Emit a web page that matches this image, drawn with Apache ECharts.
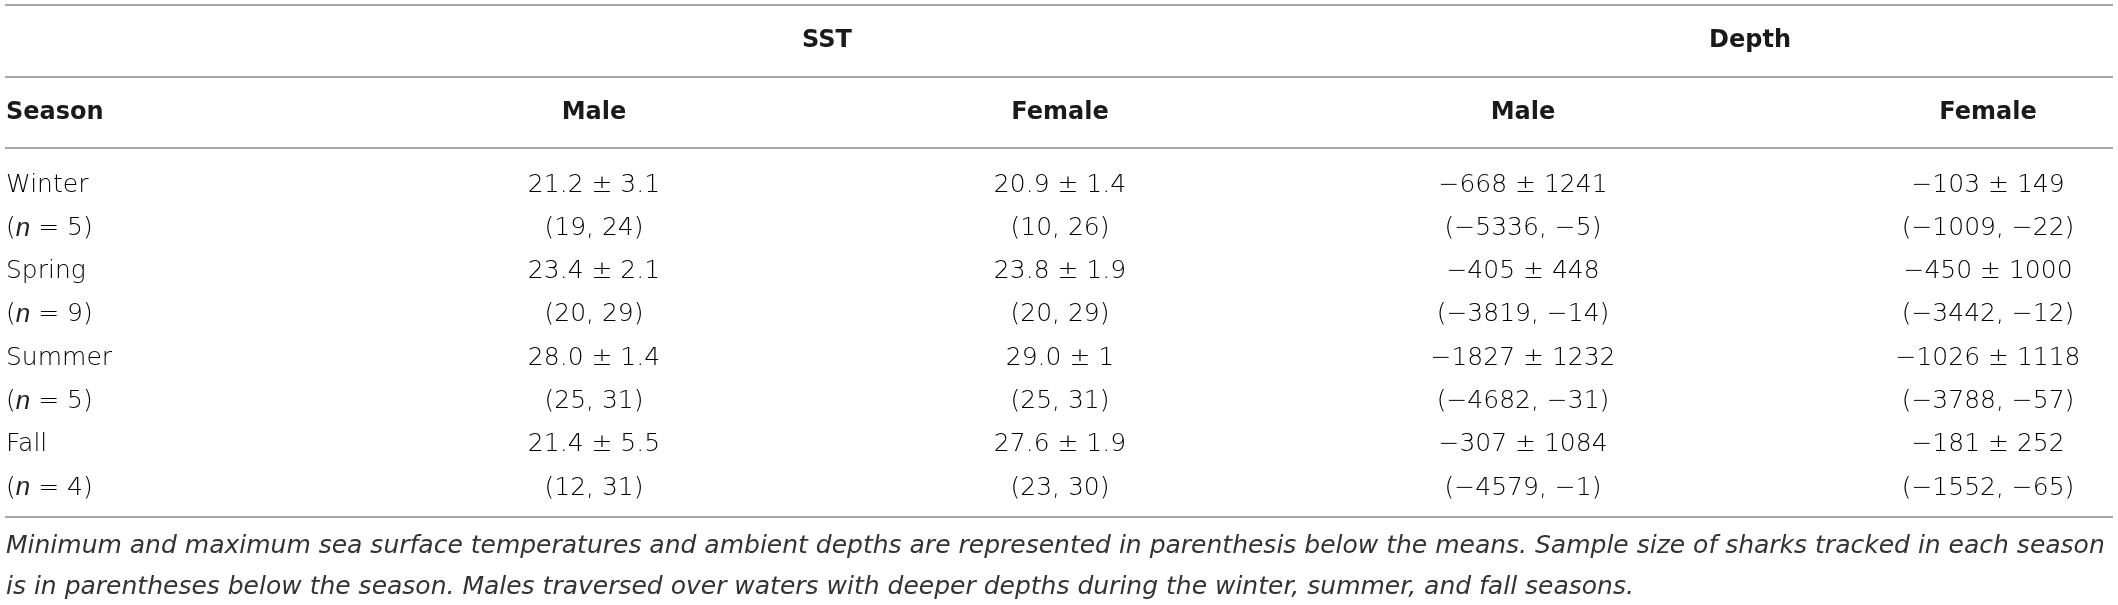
<!DOCTYPE html>
<html>
<head>
<meta charset="utf-8">
<script src="https://cdn.jsdelivr.net/npm/echarts@6/dist/echarts.min.js"></script>
<style>
html, body { margin: 0; padding: 0; background: #ffffff; }
#chart { width: 2118px; height: 605px; }
</style>
</head>
<body>
<div id="chart"></div>
<script>
// ---------------- data ----------------
const groupHeaders = ['SST', 'Depth'];
const columnHeaders = ['Season', 'Male', 'Female', 'Male', 'Female'];
const seasons = ['Winter', 'Spring', 'Summer', 'Fall'];
const sampleSizes = [5, 9, 5, 4];

const sstMaleMean = [21.2, 23.4, 28.0, 21.4];
const sstMaleSd = [3.1, 2.1, 1.4, 5.5];
const sstMaleMin = [19, 20, 25, 12];
const sstMaleMax = [24, 29, 31, 31];

const sstFemaleMean = [20.9, 23.8, 29.0, 27.6];
const sstFemaleSd = [1.4, 1.9, 1, 1.9];
const sstFemaleMin = [10, 20, 25, 23];
const sstFemaleMax = [26, 29, 31, 30];

const depthMaleMean = [-668, -405, -1827, -307];
const depthMaleSd = [1241, 448, 1232, 1084];
const depthMaleMin = [-5336, -3819, -4682, -4579];
const depthMaleMax = [-5, -14, -31, -1];

const depthFemaleMean = [-103, -450, -1026, -181];
const depthFemaleSd = [149, 1000, 1118, 252];
const depthFemaleMin = [-1009, -3442, -3788, -1552];
const depthFemaleMax = [-22, -12, -57, -65];

const captionLines = [
  'Minimum and maximum sea surface temperatures and ambient depths are represented in parenthesis below the means. Sample size of sharks tracked in each season',
  'is in parentheses below the season. Males traversed over waters with deeper depths during the winter, summer, and fall seasons.'
];

// ---------------- layout (styles / positions) ----------------
const W = 2118, H = 605;
const colX = [6, 594, 1060, 1523, 1988];
const groupX = [827, 1750];
const ruleY = [5, 77, 148, 517];
const ruleX0 = 5, ruleX1 = 2113;
const groupY = 41, headY = 113, bodyY0 = 185, bodyStep = 43.3;
const captionY = [546, 587];
const FONT = "'DejaVu Sans', 'Liberation Sans', Arial, sans-serif";
const ITALIC_FONT = "'Liberation Sans', Arial, sans-serif";
const BODY_SIZE = 25, HEAD_SIZE = 24, CAP_SIZE = 25;
const BODY_WEIGHT = 200;
const TEXT_COLOR = '#000000';
const HEAD_COLOR = '#1a1a1a';
const CAP_COLOR = '#333333';

// ---------------- formatting ----------------
const fmtNum = v => (v < 0 ? '\u2212' + Math.abs(v) : String(v));
const fmtMean1 = v => v.toFixed(1);

const sstCols = [
  [sstMaleMean, sstMaleSd, sstMaleMin, sstMaleMax],
  [sstFemaleMean, sstFemaleSd, sstFemaleMin, sstFemaleMax]
];
const depthCols = [
  [depthMaleMean, depthMaleSd, depthMaleMin, depthMaleMax],
  [depthFemaleMean, depthFemaleSd, depthFemaleMin, depthFemaleMax]
];

const cells = [];
groupHeaders.forEach((g, i) => cells.push({ value: [groupX[i], groupY], text: g, kind: 'bold', align: 'center' }));
columnHeaders.forEach((h, i) => cells.push({ value: [colX[i], headY], text: h, kind: 'bold', align: i === 0 ? 'left' : 'center' }));
seasons.forEach((s, i) => {
  const y1 = bodyY0 + bodyStep * (2 * i);
  const y2 = bodyY0 + bodyStep * (2 * i + 1);
  cells.push({ value: [colX[0], y1], text: s, kind: 'body', align: 'left' });
  cells.push({ value: [colX[0], y2], text: '({n|n} = ' + sampleSizes[i] + ')', kind: 'body', align: 'left' });
  sstCols.forEach((c, k) => {
    cells.push({ value: [colX[1 + k], y1], text: fmtMean1(c[0][i]) + ' \u00b1 ' + fmtNum(c[1][i]), kind: 'body', align: 'center' });
    cells.push({ value: [colX[1 + k], y2], text: '(' + fmtNum(c[2][i]) + ', ' + fmtNum(c[3][i]) + ')', kind: 'body', align: 'center' });
  });
  depthCols.forEach((c, k) => {
    cells.push({ value: [colX[3 + k], y1], text: fmtNum(c[0][i]) + ' \u00b1 ' + fmtNum(c[1][i]), kind: 'body', align: 'center' });
    cells.push({ value: [colX[3 + k], y2], text: '(' + fmtNum(c[2][i]) + ', ' + fmtNum(c[3][i]) + ')', kind: 'body', align: 'center' });
  });
});
captionLines.forEach((t, i) => cells.push({ value: [colX[0], captionY[i]], text: t, kind: 'caption', align: 'left' }));

const rules = ruleY.map(y => ({ value: [ruleX0, y, ruleX1] }));

const chart = echarts.init(document.getElementById('chart'), null, { renderer: 'canvas' });
chart.setOption({
  backgroundColor: '#ffffff',
  animation: false,
  grid: { left: 0, right: 0, top: 0, bottom: 0 },
  xAxis: { type: 'value', min: 0, max: W, show: false },
  yAxis: { type: 'value', min: 0, max: H, inverse: true, show: false },
  series: [
    {
      type: 'custom',
      name: 'rules',
      coordinateSystem: 'cartesian2d',
      data: rules,
      silent: true,
      renderItem: (params, api) => {
        const a = api.coord([api.value(0), api.value(1)]);
        const b = api.coord([api.value(2), api.value(1)]);
        return {
          type: 'line',
          shape: { x1: a[0], y1: a[1], x2: b[0], y2: b[1] },
          style: { stroke: '#a6a6a6', lineWidth: 2 }
        };
      }
    },
    {
      type: 'custom',
      name: 'cells',
      coordinateSystem: 'cartesian2d',
      data: cells,
      silent: true,
      renderItem: (params, api) => {
        const d = cells[params.dataIndex];
        const p = api.coord([api.value(0), api.value(1)]);
        const isBold = d.kind === 'bold';
        const isCap = d.kind === 'caption';
        const size = isCap ? CAP_SIZE : (isBold ? HEAD_SIZE : BODY_SIZE);
        const weight = isBold ? 'bold' : (isCap ? 'normal' : BODY_WEIGHT);
        const color = isBold ? HEAD_COLOR : (isCap ? CAP_COLOR : TEXT_COLOR);
        return {
          type: 'text',
          x: p[0],
          y: p[1],
          style: {
            text: d.text,
            fill: color,
            fontFamily: FONT,
            fontSize: size,
            fontWeight: weight,
            fontStyle: isCap ? 'italic' : 'normal',
            align: d.align,
            verticalAlign: 'middle',
            rich: {
              n: { fontStyle: 'italic', fontFamily: ITALIC_FONT, fontSize: size + 1, fontWeight: 'normal', fill: '#222222' }
            }
          }
        };
      }
    }
  ]
});
</script>
</body>
</html>
